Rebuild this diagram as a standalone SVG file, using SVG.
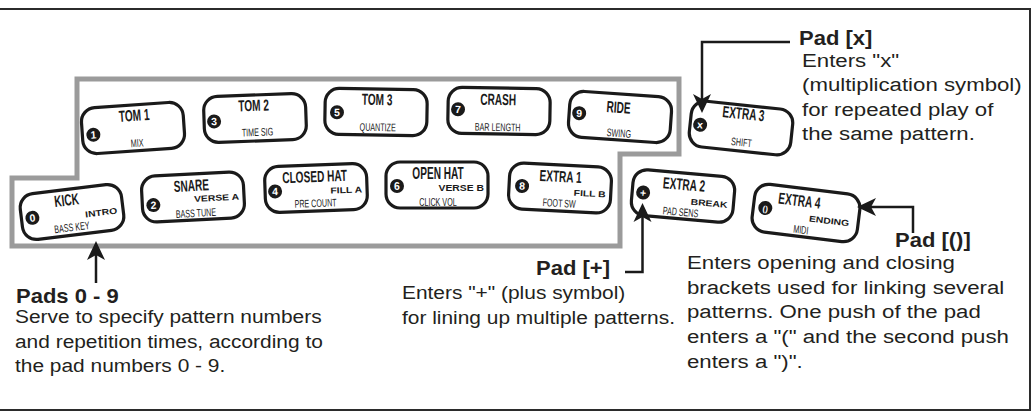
<svg xmlns="http://www.w3.org/2000/svg" width="1034" height="412" viewBox="0 0 1034 412">
<defs>
<style>
.frame{fill:none;stroke:#2b2b2b;stroke-width:2}
.zone{fill:none;stroke:#9b9b9b;stroke-width:5}
.pad rect{fill:#fff;stroke:#1a1a1a;stroke-width:3.2}
.nm{font-family:'Liberation Sans',Arial,sans-serif;font-weight:bold;font-size:16px;fill:#1a1a1a;text-anchor:middle}
.sb{font-family:'Liberation Sans',Arial,sans-serif;font-size:11px;fill:#1a1a1a;text-anchor:middle}
.ex{font-family:'Liberation Sans',Arial,sans-serif;font-weight:bold;font-size:8.5px;fill:#1a1a1a;text-anchor:end}
.nc{fill:#1a1a1a}
.nt{font-family:'Liberation Sans',Arial,sans-serif;font-weight:bold;font-size:10.5px;fill:#fff;text-anchor:middle}
.hd{font-family:'Liberation Sans',Arial,sans-serif;font-weight:bold;font-size:20px;fill:#231f20}
.bd{font-family:'Liberation Sans',Arial,sans-serif;font-size:19px;fill:#231f20}
.conn{fill:none;stroke:#1a1a1a;stroke-width:2.5}
</style>
<marker id="ah" viewBox="-10 -10 21 20" refX="0" refY="0" markerWidth="21" markerHeight="20" markerUnits="userSpaceOnUse" orient="auto">
<path d="M10,0 L-9,-9 L-4,0 L-9,9 Z" fill="#1a1a1a"/>
</marker>
</defs>
<rect width="1034" height="412" fill="#fff"/>
<path class="frame" d="M0,9 H1030 V410 H0"/>
<path class="zone" d="M77,79 H679 V154 H620 V246 H12 V178 H77 Z"/>

<!-- Row 1 pads -->
<g id="pad-tom1" class="pad" transform="translate(133,128) rotate(-4)">
<rect x="-51" y="-23" width="102" height="46" rx="14"/>
<circle class="nc" cx="-40" cy="4" r="7"/><text class="nt" x="-40" y="7.7">1</text>
<text class="nm" transform="translate(2,-7) scale(0.63,1)">TOM 1</text>
<text class="sb" transform="translate(3,19) scale(0.65,1)">MIX</text>
</g>
<g id="pad-tom2" class="pad" transform="translate(255,118) rotate(-2)">
<rect x="-51" y="-23" width="102" height="46" rx="14"/>
<circle class="nc" cx="-41" cy="2" r="7"/><text class="nt" x="-41" y="5.7">3</text>
<text class="nm" transform="translate(-1,-7) scale(0.63,1)">TOM 2</text>
<text class="sb" transform="translate(2,18) scale(0.65,1)">TIME SIG</text>
</g>
<g id="pad-tom3" class="pad" transform="translate(376,112) rotate(1)">
<rect x="-51" y="-23" width="102" height="46" rx="14"/>
<circle class="nc" cx="-39" cy="1" r="7"/><text class="nt" x="-39" y="4.7">5</text>
<text class="nm" transform="translate(1,-7) scale(0.63,1)">TOM 3</text>
<text class="sb" transform="translate(2,19) scale(0.65,1)">QUANTIZE</text>
</g>
<g id="pad-crash" class="pad" transform="translate(499,111) rotate(1)">
<rect x="-51" y="-23" width="102" height="46" rx="14"/>
<circle class="nc" cx="-41" cy="-1" r="7"/><text class="nt" x="-41" y="2.7">7</text>
<text class="nm" transform="translate(-1,-6) scale(0.63,1)">CRASH</text>
<text class="sb" transform="translate(-1,20) scale(0.65,1)">BAR LENGTH</text>
</g>
<g id="pad-ride" class="pad" transform="translate(620,117) rotate(4)">
<rect x="-51" y="-23" width="102" height="46" rx="14"/>
<circle class="nc" cx="-41" cy="-1" r="7"/><text class="nt" x="-41" y="2.7">9</text>
<text class="nm" transform="translate(-2,-4) scale(0.63,1)">RIDE</text>
<text class="sb" transform="translate(0,20) scale(0.65,1)">SWING</text>
</g>
<g id="pad-extra3" class="pad" transform="translate(741,128) rotate(6)">
<rect x="-51" y="-23" width="102" height="46" rx="14"/>
<circle class="nc" cx="-41" cy="1" r="7"/><text class="nt" x="-41" y="4.7">x</text>
<text class="nm" transform="translate(1,-9) scale(0.63,1)">EXTRA 3</text>
<text class="sb" transform="translate(2,18) scale(0.65,1)">SHIFT</text>
</g>

<!-- Row 2 pads -->
<g id="pad-kick" class="pad" transform="translate(72,212) rotate(-7)">
<rect x="-51" y="-23" width="102" height="46" rx="14"/>
<circle class="nc" cx="-40" cy="1" r="7"/><text class="nt" x="-40" y="4.7">0</text>
<text class="nm" transform="translate(-4,-7) scale(0.63,1)">KICK</text>
<text class="ex" transform="translate(45,7) scale(1.22,1)">INTRO</text>
<text class="sb" transform="translate(-2,19) scale(0.65,1)">BASS KEY</text>
</g>
<g id="pad-snare" class="pad" transform="translate(193,197) rotate(-3)">
<rect x="-51" y="-23" width="102" height="46" rx="14"/>
<circle class="nc" cx="-40" cy="6" r="7"/><text class="nt" x="-40" y="9.7">2</text>
<text class="nm" transform="translate(-1,-6) scale(0.63,1)">SNARE</text>
<text class="ex" transform="translate(46,5) scale(1.22,1)">VERSE A</text>
<text class="sb" transform="translate(2,20) scale(0.65,1)">BASS TUNE</text>
</g>
<g id="pad-closedhat" class="pad" transform="translate(316,188) rotate(-2)">
<rect x="-51" y="-23" width="102" height="46" rx="14"/>
<circle class="nc" cx="-41" cy="2" r="7"/><text class="nt" x="-41" y="5.7">4</text>
<text class="nm" transform="translate(-1,-6) scale(0.63,1)">CLOSED HAT</text>
<text class="ex" transform="translate(46,6) scale(1.22,1)">FILL A</text>
<text class="sb" transform="translate(-1,19) scale(0.65,1)">PRE COUNT</text>
</g>
<g id="pad-openhat" class="pad" transform="translate(437,185)">
<rect x="-51" y="-23" width="102" height="46" rx="14"/>
<circle class="nc" cx="-40" cy="1" r="7"/><text class="nt" x="-40" y="4.7">6</text>
<text class="nm" transform="translate(1,-6) scale(0.63,1)">OPEN HAT</text>
<text class="ex" transform="translate(47,6) scale(1.22,1)">VERSE B</text>
<text class="sb" transform="translate(1,21) scale(0.65,1)">CLICK VOL</text>
</g>
<g id="pad-extra1" class="pad" transform="translate(560,188) rotate(3)">
<rect x="-51" y="-23" width="102" height="46" rx="14"/>
<circle class="nc" cx="-38" cy="0" r="7"/><text class="nt" x="-38" y="3.7">8</text>
<text class="nm" transform="translate(0,-6) scale(0.63,1)">EXTRA 1</text>
<text class="ex" transform="translate(46,7) scale(1.22,1)">FILL B</text>
<text class="sb" transform="translate(0,19) scale(0.65,1)">FOOT SW</text>
</g>
<g id="pad-extra2" class="pad" transform="translate(683,196) rotate(5)">
<rect x="-51" y="-23" width="102" height="46" rx="14"/>
<circle class="nc" cx="-40" cy="0" r="7"/><text class="nt" x="-40" y="4">+</text>
<text class="nm" transform="translate(0,-6) scale(0.63,1)">EXTRA 2</text>
<text class="ex" transform="translate(45,8) scale(1.22,1)">BREAK</text>
<text class="sb" transform="translate(-1,20) scale(0.65,1)">PAD SENS</text>
</g>
<g id="pad-extra4" class="pad" transform="translate(806,213) rotate(7)">
<rect x="-53" y="-24" width="106" height="48" rx="14"/>
<circle class="nc" cx="-41" cy="0" r="7"/><text class="nt" x="-41" y="3.5" style="font-size:8px">()</text>
<text class="nm" transform="translate(-8,-6) scale(0.63,1)">EXTRA 4</text>
<text class="ex" transform="translate(44,8) scale(1.22,1)">ENDING</text>
<text class="sb" transform="translate(-3,21) scale(0.65,1)">MIDI</text>
</g>

<!-- Connectors -->
<g id="connectors">
<path class="conn" d="M96,283 V251" marker-end="url(#ah)"/>
<path class="conn" d="M790,42 H702 V103" marker-end="url(#ah)"/>
<path class="conn" d="M625,272 H642.5 V213" marker-end="url(#ah)"/>
<path class="conn" d="M913,233 V207 H867" marker-end="url(#ah)"/>
</g>

<!-- Labels -->
<g id="label-pads09">
<text class="hd" transform="translate(16,303) scale(1.1,1)">Pads 0 - 9</text>
<g transform="translate(15,0) scale(1.1,1)">
<text class="bd" x="0" y="323">Serve to specify pattern numbers</text>
<text class="bd" x="0" y="348">and repetition times, according to</text>
<text class="bd" x="0" y="372">the pad numbers 0 - 9.</text>
</g>
</g>
<g id="label-padplus">
<text class="hd" transform="translate(610,275) scale(1.1,1)" text-anchor="end">Pad [+]</text>
<g transform="translate(402,0) scale(1.1,1)">
<text class="bd" x="0" y="299">Enters "+" (plus symbol)</text>
<text class="bd" x="0" y="324">for lining up multiple patterns.</text>
</g>
</g>
<g id="label-padx">
<text class="hd" transform="translate(799,45) scale(1.1,1)">Pad [x]</text>
<g transform="translate(802,0) scale(1.17,1)">
<text class="bd" x="0" y="67">Enters "x"</text>
<text class="bd" x="0" y="91">(multiplication symbol)</text>
<text class="bd" x="0" y="116">for repeated play of</text>
<text class="bd" x="0" y="140">the same pattern.</text>
</g>
</g>
<g id="label-padbr">
<text class="hd" transform="translate(895,247) scale(1.1,1)">Pad [()]</text>
<g transform="translate(687,0) scale(1.17,1)">
<text class="bd" x="0" y="269">Enters opening and closing</text>
<text class="bd" x="0" y="294">brackets used for linking several</text>
<text class="bd" x="0" y="318">patterns. One push of the pad</text>
<text class="bd" x="0" y="343">enters a "(" and the second push</text>
<text class="bd" x="0" y="368">enters a ")".</text>
</g>
</g>
</svg>
